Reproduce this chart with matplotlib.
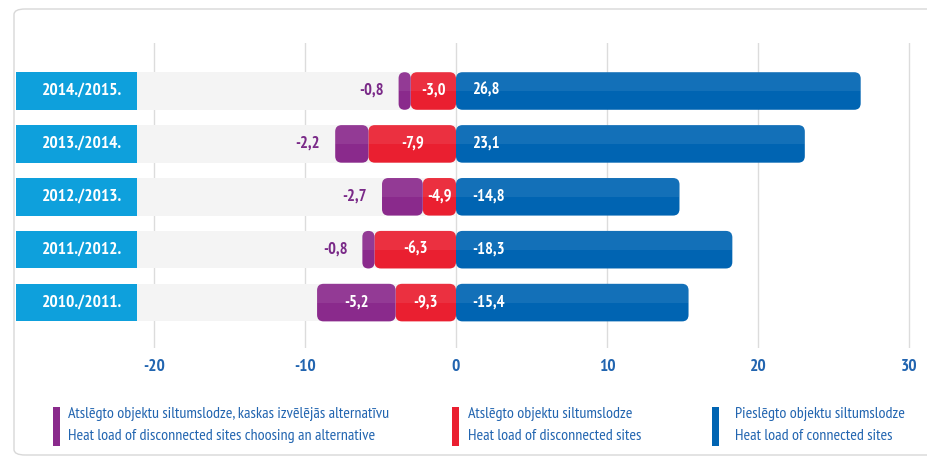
import matplotlib
matplotlib.use("Agg")
import matplotlib.pyplot as plt
from matplotlib.patches import FancyBboxPatch, Rectangle
from matplotlib import font_manager as fm

names = {f.name for f in fm.fontManager.ttflist}
FONT = "DejaVu Sans"
for cand in ["PT Sans Narrow", "Fira Sans Condensed", "Roboto Condensed",
             "Asap Condensed", "Encode Sans Condensed", "Archivo Narrow",
             "Barlow Semi Condensed", "Liberation Sans Narrow"]:
    if cand in names:
        FONT = cand
        break
plt.rcParams['font.family'] = [FONT, 'DejaVu Sans']

# ---------------- data ----------------
categories = ["2014./2015.", "2013./2014.", "2012./2013.", "2011./2012.", "2010./2011."]
connected = [26.8, 23.1, 14.8, 18.3, 15.4]
connected_labels = ["26,8", "23,1", "-14,8", "-18,3", "-15,4"]
disconnected_bar = [-3.0, -5.8, -2.2, -5.4, -4.0]
disconnected_labels = ["-3,0", "-7,9", "-4,9", "-6,3", "-9,3"]
alternative = [-0.8, -2.2, -2.7, -0.8, -5.2]
alternative_labels = ["-0,8", "-2,2", "-2,7", "-0,8", "-5,2"]
xticks = [-20, -10, 0, 10, 20, 30]
legend_lines = [
    ("Atslēgto objektu siltumslodze, kaskas izvēlējās alternatīvu",
     "Heat load of disconnected sites choosing an alternative"),
    ("Atslēgto objektu siltumslodze", "Heat load of disconnected sites"),
    ("Pieslēgto objektu siltumslodze", "Heat load of connected sites"),
]

# ---------------- style ----------------
PURPLE = "#8a2a8c"
RED = "#ea1f30"
BLUE = "#0064b2"
CYAN = "#0ea0dc"
BAND = "#f4f4f4"
TXTBLUE = "#2265b0"
PURPLE_TXT = "#7a2a88"

W, H = 927, 457
fig = plt.figure(figsize=(W / 100, H / 100), dpi=100)
fig.patch.set_facecolor("white")

# frame
frame = FancyBboxPatch((14 / W, 1 - 455 / H), (940 - 14) / W, (455 - 9) / H,
                       boxstyle="round,pad=0,rounding_size=0.012",
                       transform=fig.transFigure, facecolor="none",
                       edgecolor="#d8d8d8", lw=1.0, zorder=-1)
fig.patches.append(frame)

ax_l, ax_r, ax_t, ax_b = 16, 921, 43, 348
ax = fig.add_axes([ax_l / W, 1 - ax_b / H, (ax_r - ax_l) / W, (ax_b - ax_t) / H])
ax.set_facecolor("none")
ppu = 15.1
xmin = (ax_l - 456) / ppu
xmax = (ax_r - 456) / ppu
ax.set_xlim(xmin, xmax)
ax.set_ylim((ax_b - 91) / 52.9, (ax_t - 91) / 52.9)
for s in ax.spines.values():
    s.set_visible(False)
ax.set_yticks([])
ax.set_xticks(xticks)
ax.set_xticklabels([str(t) for t in xticks])
ax.tick_params(axis="x", length=0, pad=8, labelsize=12.5, labelcolor=TXTBLUE)
for lab in ax.get_xticklabels():
    lab.set_fontweight("bold")
ax.grid(axis="x", color="#dcdcdc", lw=1.0, zorder=0)
ax.set_axisbelow(True)

ys = list(range(len(categories)))
h = 0.71
band_left = xmin + 121 / ppu

# gray band
ax.barh(ys, [0 - band_left] * len(ys), left=band_left, height=h, color=BAND, zorder=1)

# category boxes
for y, c in zip(ys, categories):
    ax.add_patch(Rectangle((xmin, y - h / 2), 121 / ppu, h, facecolor=CYAN,
                           edgecolor="none", zorder=2))
    ax.text(xmin + 106 / ppu, y, c, color="white", fontsize=12.5, fontweight="bold",
            ha="right", va="center", zorder=3)

rx = 6.5 / ppu
ry = 6.5 / 52.9


def rounded(container, color):
    for rect in container:
        x0, y0 = rect.get_x(), rect.get_y()
        w, hh = rect.get_width(), rect.get_height()
        if w < 0:
            x0, w = x0 + w, -w
        rect.set_visible(False)
        rs = min(rx, w / 2)
        p = FancyBboxPatch((x0, y0), w, hh,
                           boxstyle=f"round,pad=0,rounding_size={rs}",
                           mutation_aspect=ry / rx,
                           facecolor=color, edgecolor="none", zorder=4)
        ax.add_patch(p)
        shine = Rectangle((x0, y0), w, hh / 2, facecolor="white", alpha=0.08,
                          edgecolor="none", zorder=5)
        ax.add_patch(shine)
        shine.set_clip_path(p)


b_blue = ax.barh(ys, connected, height=h, color=BLUE)
rounded(b_blue, BLUE)
b_red = ax.barh(ys, disconnected_bar, height=h, color=RED)
rounded(b_red, RED)
b_pur = ax.barh(ys, alternative, left=disconnected_bar, height=h, color=PURPLE)
rounded(b_pur, PURPLE)

fs = 12
for y, v, lab in zip(ys, connected, connected_labels):
    ax.text(16 / ppu, y, lab, color="white", fontsize=fs, fontweight="bold",
            ha="left", va="center", zorder=6)
for y, v, lab in zip(ys, disconnected_bar, disconnected_labels):
    ax.text(v / 2, y, lab, color="white", fontsize=fs, fontweight="bold",
            ha="center", va="center", zorder=6)
for y, r, v, lab in zip(ys, disconnected_bar, alternative, alternative_labels):
    if abs(v) >= 4:
        ax.text(r + v / 2, y, lab, color="white", fontsize=fs, fontweight="bold",
                ha="center", va="center", zorder=6)
    else:
        ax.text(r + v - 15 / ppu, y, lab, color=PURPLE_TXT, fontsize=fs,
                fontweight="bold", ha="right", va="center", zorder=6)

# legend
leg_colors = [PURPLE, RED, BLUE]
patch_x = [53, 452, 712]
text_x = [68, 468, 735]
for (l1, l2), c, px, tx in zip(legend_lines, leg_colors, patch_x, text_x):
    fig.patches.append(Rectangle((px / W, 1 - 446 / H), 7 / W, 39 / H,
                                 transform=fig.transFigure, facecolor=c,
                                 edgecolor="none"))
    fig.text(tx / W, 1 - 414 / H, l1, color=TXTBLUE, fontsize=11.5, ha="left", va="center")
    fig.text(tx / W, 1 - 436 / H, l2, color=TXTBLUE, fontsize=11.5, ha="left", va="center")

fig.savefig("out.png", dpi=100)
